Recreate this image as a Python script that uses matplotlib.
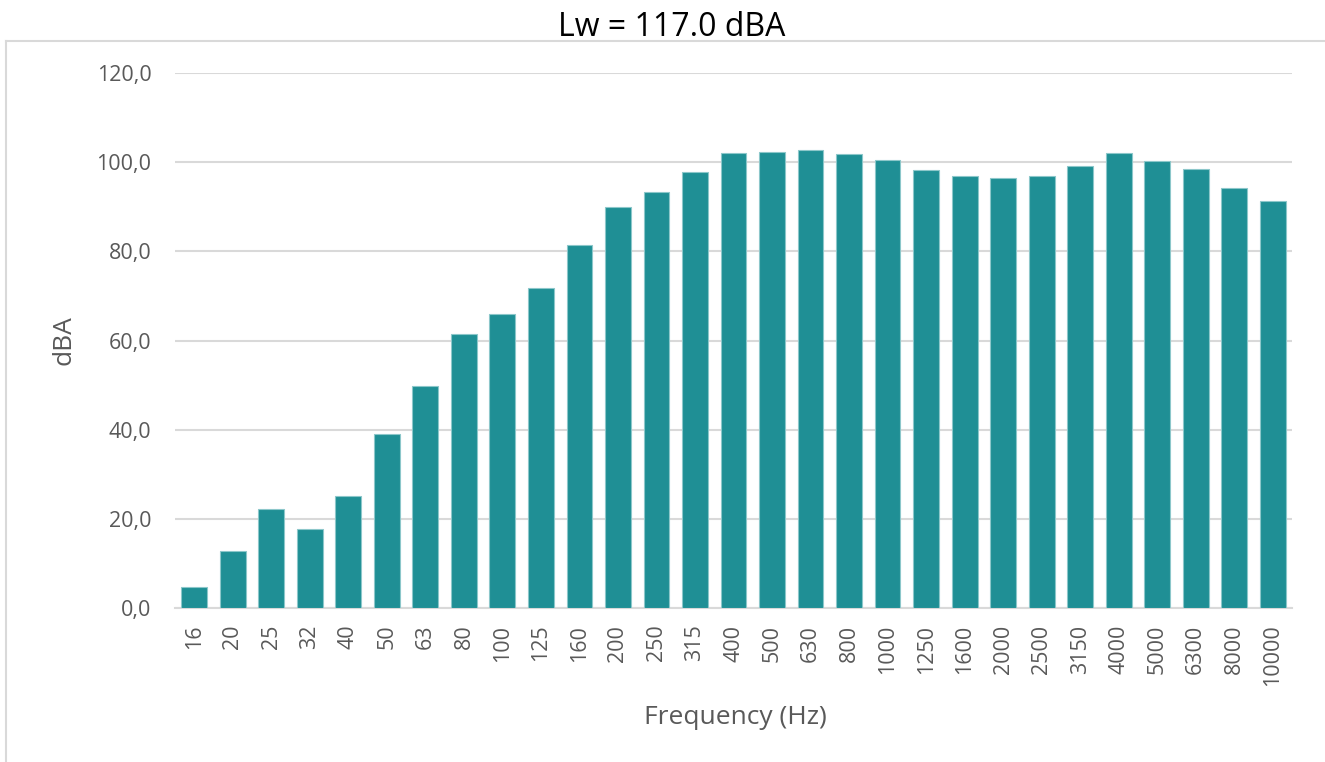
import matplotlib
matplotlib.use("Agg")
import matplotlib.pyplot as plt
from matplotlib.lines import Line2D
from matplotlib.ticker import FuncFormatter

freqs = ["16", "20", "25", "32", "40", "50", "63", "80", "100", "125", "160", "200",
         "250", "315", "400", "500", "630", "800", "1000", "1250", "1600", "2000",
         "2500", "3150", "4000", "5000", "6300", "8000", "10000"]
levels = [4.7, 12.8, 22.2, 17.7, 25.2, 39.0, 49.8, 61.5, 65.9, 71.8, 81.4, 90.0,
          93.2, 97.9, 102.0, 102.2, 102.7, 101.9, 100.5, 98.2, 96.8, 96.5,
          97.0, 99.1, 102.0, 100.2, 98.5, 94.1, 91.4]
yticks = [0, 20, 40, 60, 80, 100, 120]
title = "Lw = 117.0 dBA"

plt.rcParams['font.family'] = ['Open Sans', 'DejaVu Sans']
W, H = 1325, 762
fig = plt.figure(figsize=(W / 100, H / 100), dpi=100)
ax = fig.add_axes([175 / W, 1 - 608 / H, 1117 / W, 535 / H])

x = list(range(len(freqs)))
ax.bar(x, levels, width=0.67, color="#1f8f95", edgecolor="#8cc7ca", linewidth=0.8, zorder=3)
ax.set_xlim(-0.5, len(freqs) - 0.5)
ax.set_ylim(0, 120)
ax.set_yticks(yticks)
ax.yaxis.set_major_formatter(FuncFormatter(lambda v, p: f"{v:.1f}".replace(".", ",")))
ax.set_xticks(x)
ax.set_xticklabels(freqs, rotation=90)
ax.tick_params(axis="both", length=0, labelsize=15.5, colors="#595959")
ax.tick_params(axis="y", pad=17)
ax.tick_params(axis="x", pad=12)
ax.grid(axis="y", color="#d9d9d9", linewidth=1.5, zorder=0)
for s in ["top", "right", "left"]:
    ax.spines[s].set_visible(False)
ax.spines["bottom"].set_color("#d9d9d9")
ax.spines["bottom"].set_linewidth(1.5)
ax.set_xlabel("Frequency (Hz)", fontsize=19, color="#595959", va="center")
ax.xaxis.set_label_coords((735 - 175) / 1117, -(718 - 608) / 535)
ax.set_ylabel("dBA", fontsize=19, color="#595959", va="center")
ax.yaxis.set_label_coords(-(175 - 64) / 1117, (608 - 340) / 535)

fig.text(672 / W, 1 - 27 / H, title, ha="center", va="center", fontsize=23, color="black")

# outer chart border (top and left)
fig.add_artist(Line2D([6 / W, 1.0], [1 - 41 / H, 1 - 41 / H], color="#d9d9d9", linewidth=1.5,
                      transform=fig.transFigure))
fig.add_artist(Line2D([6 / W, 6 / W], [0, 1 - 41 / H], color="#d9d9d9", linewidth=1.5,
                      transform=fig.transFigure))

fig.savefig("out.png", dpi=100, facecolor="white")
